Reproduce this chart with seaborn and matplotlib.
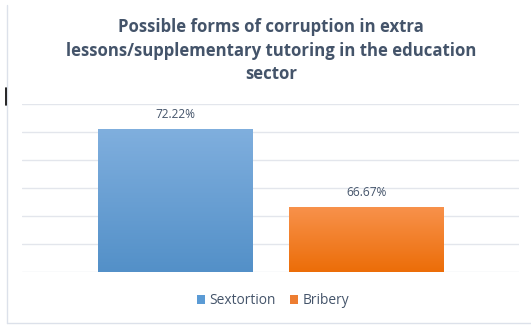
import matplotlib
matplotlib.use("Agg")
import matplotlib.pyplot as plt
import numpy as np
import pandas as pd
import seaborn as sns
from matplotlib.colors import LinearSegmentedColormap
from matplotlib.patches import Patch
from matplotlib.lines import Line2D

# Data
series = ["Sextortion", "Bribery"]
values = [72.22, 66.67]
value_labels = ["72.22%", "66.67%"]
title = "Possible forms of corruption in extra\nlessons/supplementary tutoring in the education\nsector"

solid_colors = ["#5B9BD5", "#ED7D31"]
gradients = [("#80AFDE", "#5390C8"), ("#F8924C", "#EC6D08")]

sns.set_theme(style="white")
plt.rcParams["font.family"] = ["Open Sans", "DejaVu Sans"]

W, H = 531, 325
fig = plt.figure(figsize=(W / 100, H / 100), dpi=100)
ax = fig.add_axes([22 / W, 1 - 272.3 / H, (519 - 22) / W, (272.3 - 104) / H])

df = pd.DataFrame({"series": series, "value": values})
sns.barplot(data=df, x="series", y="value", hue="series", palette=solid_colors,
            width=0.812, legend=False, ax=ax, zorder=3)

ax.set_ylim(62, 74)
ax.set_yticks(np.arange(62, 74.1, 2))
ax.set_xlim(-0.8045, 1.80)
ax.yaxis.grid(True, color="#E3E6EC", linewidth=1.0, zorder=0)
ax.xaxis.grid(False)
ax.set_xticks([])
ax.set_yticklabels([])
ax.tick_params(left=False, bottom=False)
ax.set_xlabel("")
ax.set_ylabel("")
for s in ax.spines.values():
    s.set_visible(False)

# vertical gradient fill on each bar
for patch, (top, bottom) in zip(ax.patches, gradients):
    x0, y0 = patch.get_x(), patch.get_y()
    w, h = patch.get_width(), patch.get_height()
    cmap = LinearSegmentedColormap.from_list("g", [bottom, top])
    grad = np.linspace(0, 1, 256).reshape(-1, 1)
    bottom_val = ax.get_ylim()[0]
    im = ax.imshow(grad, extent=[x0, x0 + w, bottom_val, y0 + h], origin="lower",
                   aspect="auto", cmap=cmap, zorder=4)
    im.set_clip_path(patch)
    patch.set_edgecolor("none")

ax.set_xlim(-0.8045, 1.80)
ax.set_ylim(62, 74)

# value labels
for i, (v, lab) in enumerate(zip(values, value_labels)):
    ax.annotate(lab, (i, v), xytext=(0, 5.5), textcoords="offset points",
                ha="center", va="bottom", fontsize=8.6, color="#44546A", zorder=5)

fig.text(271 / W, 1 - 18 / H, title, ha="center", va="top", fontsize=12.1,
         fontweight="bold", color="#44546A", linespacing=1.4)

handles = [Patch(facecolor=c, edgecolor="none") for c in solid_colors]
fig.legend(handles, series, loc="center", bbox_to_anchor=(273 / W, 1 - 301 / H),
           ncol=2, frameon=False, fontsize=9.9, handlelength=0.6, handleheight=0.6,
           handletextpad=0.3, columnspacing=1.05, labelcolor="#44546A",
           borderpad=0, borderaxespad=0)

# outer chart frame (left and bottom edges)
fig.add_artist(Line2D([6.5 / W, 6.5 / W], [1 - 5 / H, 1 - 323 / H],
                      transform=fig.transFigure, color="#DCE1EA", linewidth=1))
fig.add_artist(Line2D([6.5 / W, 1], [1 - 323 / H, 1 - 323 / H],
                      transform=fig.transFigure, color="#DCE1EA", linewidth=1))
# text cursor mark
fig.add_artist(Line2D([5.5 / W, 5.5 / W], [1 - 88 / H, 1 - 105 / H],
                      transform=fig.transFigure, color="#000000", linewidth=1.2))

fig.savefig("out.png", dpi=100, facecolor="white")
